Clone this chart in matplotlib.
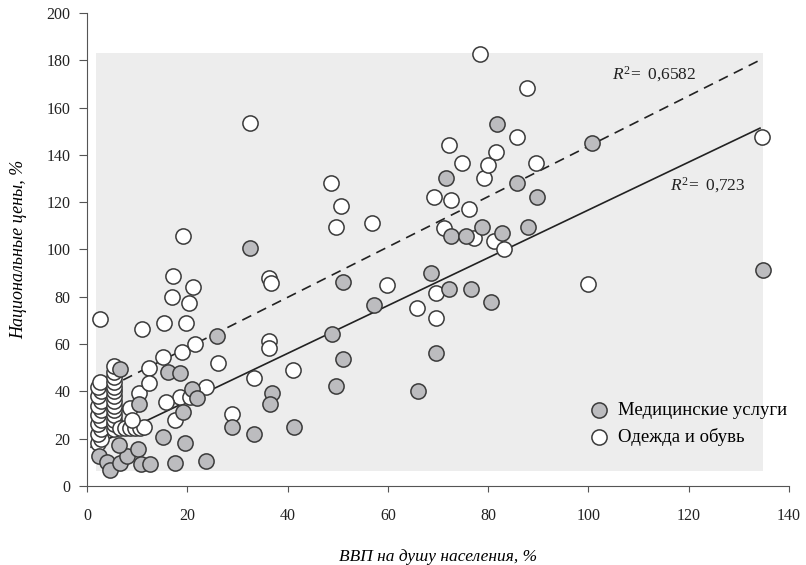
import numpy as np
import matplotlib
matplotlib.use('Agg')
import matplotlib.pyplot as plt
import matplotlib.patches as patches

# Медицинские услуги (серые точки)
med_x = [2.3, 3.9, 4.6, 6.6, 8.0, 6.4, 10.2, 10.8, 12.6, 17.6, 23.7, 15.2, 19.5,
         6.6, 10.4, 16.2, 18.5, 19.2, 20.9, 21.9, 25.9, 29.0, 33.3, 32.5, 36.8,
         36.5, 41.3, 49.7, 48.8, 51.0, 51.0, 57.2, 66.0, 68.5, 69.6, 71.6, 72.1,
         72.5, 75.5, 76.6, 78.8, 80.6, 81.7, 82.7, 85.8, 87.9, 89.7, 100.7, 134.8]
med_y = [12.7, 9.9, 6.8, 9.6, 12.7, 17.5, 15.5, 9.3, 9.3, 9.6, 10.7, 20.8, 18.0,
         49.5, 34.7, 48.3, 47.6, 31.4, 40.9, 37.1, 63.6, 25.1, 21.9, 100.7, 39.4,
         34.7, 24.7, 42.3, 64.1, 53.6, 86.4, 76.5, 40.2, 89.9, 56.4, 130.4, 83.2,
         105.7, 105.7, 83.2, 109.7, 77.9, 152.9, 106.8, 128.2, 109.3, 122.1, 144.9, 91.3]

# Одежда и обувь (белые точки)
cloth_x = [2.2, 2.8, 2.2, 2.8, 2.2, 2.8, 2.2, 2.8, 2.2, 2.8, 2.2, 2.8, 2.2, 2.6,
           5.3, 5.3, 5.3, 5.3, 5.3, 5.3, 5.3, 5.3, 5.3, 5.3, 5.3, 5.3, 5.3, 5.3,
           6.5, 7.5, 8.5, 9.5, 10.5, 11.3, 8.6, 10.3, 9.0,
           2.5, 10.9, 12.3, 12.4, 15.1, 18.9, 21.5, 15.4, 19.7, 16.9, 20.3, 17.1,
           21.2, 19.2, 32.4, 26.1, 33.3, 23.7, 18.5, 20.5, 15.8, 17.5, 28.9,
           36.2, 36.7, 36.2, 36.2, 41.0, 48.7, 50.6, 49.6, 56.8, 59.9, 65.8, 69.5,
           69.6, 69.1, 72.5, 71.1, 72.1, 74.7, 76.1, 77.2, 78.3, 79.2, 80.0, 81.5,
           81.2, 83.2, 85.7, 87.7, 89.5, 99.9, 134.6]
cloth_y = [18, 20, 22, 24, 26, 28, 30, 32, 34, 36, 38, 40, 42, 44,
           24, 26, 28, 30, 32, 34, 36, 38, 40, 42, 44, 46, 48, 50.5,
           24.5, 24.5, 24.5, 24.5, 24.5, 25, 32.8, 39.2, 28,
           70.5, 66.2, 50.0, 43.7, 54.4, 56.7, 60.0, 68.8, 69.1, 80.0, 77.2, 88.8,
           84.3, 105.8, 153.4, 51.9, 45.8, 42.0, 37.8, 37.5, 35.4, 27.9, 30.3,
           88.1, 85.7, 61.3, 58.2, 49.0, 128.0, 118.5, 109.7, 111.1, 85.0, 75.1, 70.9,
           81.7, 122.1, 120.9, 109.0, 144.2, 136.4, 117.0, 104.7, 182.5, 130.1, 135.7, 141.4,
           103.6, 100.1, 147.4, 168.2, 136.4, 85.3, 147.4]

# линии тренда (концы)
med_line_x = [0.8, 134.2]
med_line_y = [16.4, 151.3]
cloth_line_x = [7.2, 134.2]
cloth_line_y = [44.8, 180.1]

plt.rcParams['font.family'] = ['Liberation Serif', 'DejaVu Serif']
plt.rcParams['mathtext.fontset'] = 'custom'
plt.rcParams['mathtext.rm'] = 'Liberation Serif'
plt.rcParams['mathtext.it'] = 'Liberation Serif:italic'

fig = plt.figure(figsize=(8.06, 5.65), dpi=100)
ax = fig.add_axes([0.108, 0.14, 0.871, 0.837])

ax.add_patch(patches.Rectangle((1.8, 6.3), 133.0, 176.7, facecolor='#ededed',
                               edgecolor='none', zorder=0))

ax.plot(med_line_x, med_line_y, color='#222222', lw=1.2, zorder=1)
ax.plot(cloth_line_x, cloth_line_y, color='#222222', lw=1.2, ls=(0, (6, 4)), zorder=1)

h_cloth = ax.scatter(cloth_x, cloth_y, s=120, facecolor='white', edgecolor='#3a3a3a',
                     linewidth=1.1, zorder=2, label='Одежда и обувь')
h_med = ax.scatter(med_x, med_y, s=120, facecolor='#bcbcbf', edgecolor='#3a3a3a',
                   linewidth=1.1, zorder=3, label='Медицинские услуги')

ax.text(104.7, 174, r'$R^2\!=$ 0,6582', fontsize=12.5, ha='left', va='center', color='#222222')
ax.text(116.3, 127, r'$R^2\!=$ 0,723', fontsize=12.5, ha='left', va='center', color='#222222')

ax.legend(handles=[h_med, h_cloth], loc='center left', bbox_to_anchor=(0.703, 0.131),
          frameon=False, fontsize=13.5, borderpad=0, handlelength=1.0,
          handletextpad=0.5, labelspacing=0.45)

ax.set_xlim(0, 140)
ax.set_ylim(0, 200)
ax.set_xticks(np.arange(0, 141, 20))
ax.set_yticks(np.arange(0, 201, 20))
for s in ['top', 'right']:
    ax.spines[s].set_visible(False)
for s in ['left', 'bottom']:
    ax.spines[s].set_color('#555555')
ax.tick_params(axis='both', colors='#555555', labelcolor='#222222', labelsize=11.5)
ax.tick_params(axis='x', length=4, pad=12)
ax.tick_params(axis='y', length=6, pad=6)

ax.set_xlabel('ВВП на душу населения, %', fontsize=12.5, style='italic', labelpad=18)
ax.set_ylabel('Национальные цены, %', fontsize=13, style='italic', labelpad=14)

fig.savefig('out.png', dpi=100)
